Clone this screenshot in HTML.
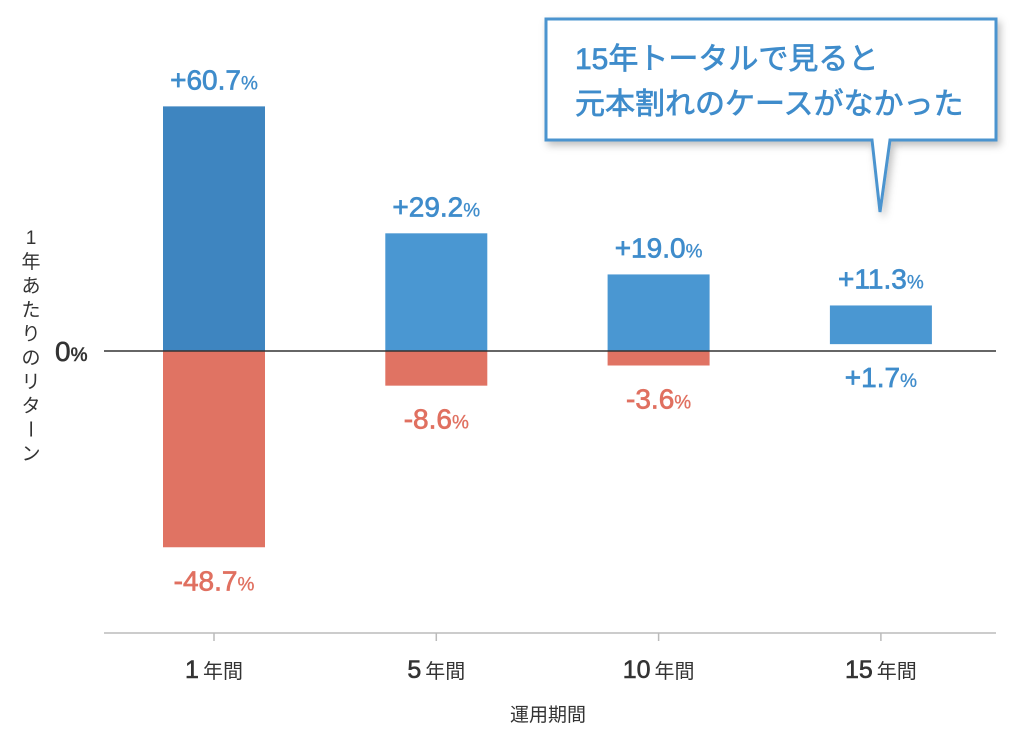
<!DOCTYPE html>
<html><head><meta charset="utf-8"><style>
body{margin:0;background:#fff;}
svg{display:block;font-family:"Liberation Sans","Noto Sans CJK JP",sans-serif;}
</style></head><body>
<svg id="chart" width="1024" height="740" viewBox="0 0 1024 740">
<defs><filter id="sh" x="-10%" y="-10%" width="130%" height="140%"><feDropShadow dx="3" dy="4" stdDeviation="4" flood-color="#000" flood-opacity="0.25"/></filter></defs>
<g id="bars"></g>
<line x1="104" y1="351" x2="996" y2="351" stroke="#333" stroke-width="1.5"/>
<line x1="104" y1="633" x2="996" y2="633" stroke="#bbb" stroke-width="1.5"/>
<text x="55" y="361" font-size="28" fill="#333" stroke="#333" stroke-width="0.6">0<tspan font-size="19">%</tspan></text>
<g font-size="19" fill="#333" text-anchor="middle">
<text x="31" y="244">1</text><text x="31" y="268">年</text><text x="31" y="292">あ</text><text x="31" y="316">た</text><text x="31" y="340">り</text><text x="31" y="364">の</text><text x="31" y="388">リ</text><text x="31" y="412">タ</text><text x="31" y="436" transform="rotate(90 31 429)">ー</text><text x="31" y="460">ン</text>
</g>
<text x="548" y="721" font-size="19" fill="#333" text-anchor="middle">運用期間</text>
<g filter="url(#sh)">
<path d="M546,19 L996,19 L996,140 L890,140 L880,212 L872,140 L546,140 Z" fill="#fff" stroke="#4b94cf" stroke-width="3" stroke-linejoin="miter"/>
</g>
<text font-size="30" fill="#3f8ccb" stroke="#3f8ccb" stroke-width="0.7"><tspan x="575" y="69">15年トータルで見ると</tspan><tspan x="575" y="114">元本割れのケースがなかった</tspan></text>
</svg>
<script>
const categories=["1","5","10","15"];
const highs=[60.7,29.2,19.0,11.3];
const lows=[-48.7,-8.6,-3.6,1.7];
const highLabels=["+60.7","+29.2","+19.0","+11.3"];
const lowLabels=["-48.7","-8.6","-3.6","+1.7"];
const NS="http://www.w3.org/2000/svg";
const y0=351,k=4.03;
function yS(v){return y0-v*k;}
function xS(i){return 214+i*222.3;}
const g=document.getElementById('bars');
const svg=document.getElementById('chart');
function mk(t,a){const e=document.createElementNS(NS,t);for(const n in a)e.setAttribute(n,a[n]);return e;}
categories.forEach((c,i)=>{
  const cx=xS(i),w=102;
  const hi=highs[i],lo=lows[i];
  let r;
  if(lo>=0){
    r=mk('rect',{x:cx-w/2,y:yS(hi),width:w,height:yS(lo)-yS(hi),fill:'#4a97d2'});
    
    
    g.appendChild(r);
  }else{
    r=mk('rect',{x:cx-w/2,y:yS(hi),width:w,height:y0-yS(hi),fill:i===0?'#3e85c0':'#4a97d2'});
    
    
    g.appendChild(r);
    const r2=mk('rect',{x:cx-w/2,y:y0,width:w,height:yS(lo)-y0,fill:'#e07363'});
    
    
    g.appendChild(r2);
  }
  const bc='#3f8ccb',rc='#e07060';
  const t1=mk('text',{x:cx,y:yS(hi)-17,'text-anchor':'middle','font-size':28,fill:bc,stroke:bc,'stroke-width':0.7});
  t1.innerHTML=highLabels[i]+'<tspan font-size="19" stroke-width="0.3">%</tspan>';
  
  
  svg.appendChild(t1);
  const col=lo>=0?bc:rc;
  const t2=mk('text',{x:cx,y:(lo>=0?yS(lo):yS(lo))+43,'text-anchor':'middle','font-size':28,fill:col,stroke:col,'stroke-width':0.7});
  t2.innerHTML=lowLabels[i]+'<tspan font-size="19" stroke-width="0.3">%</tspan>';
  
  
  svg.appendChild(t2);
  const tk=mk('line',{x1:cx,y1:633,x2:cx,y2:641,stroke:'#bbb','stroke-width':1.5});
  
  
  svg.appendChild(tk);
  const cl=mk('text',{x:cx,y:678,'text-anchor':'middle','font-size':25,fill:'#333',stroke:'#333','stroke-width':0.6});
  cl.innerHTML=c+'<tspan font-size="20" stroke-width="0" dx="4">年間</tspan>';
  
  
  svg.appendChild(cl);
});
</script>
</body></html>
